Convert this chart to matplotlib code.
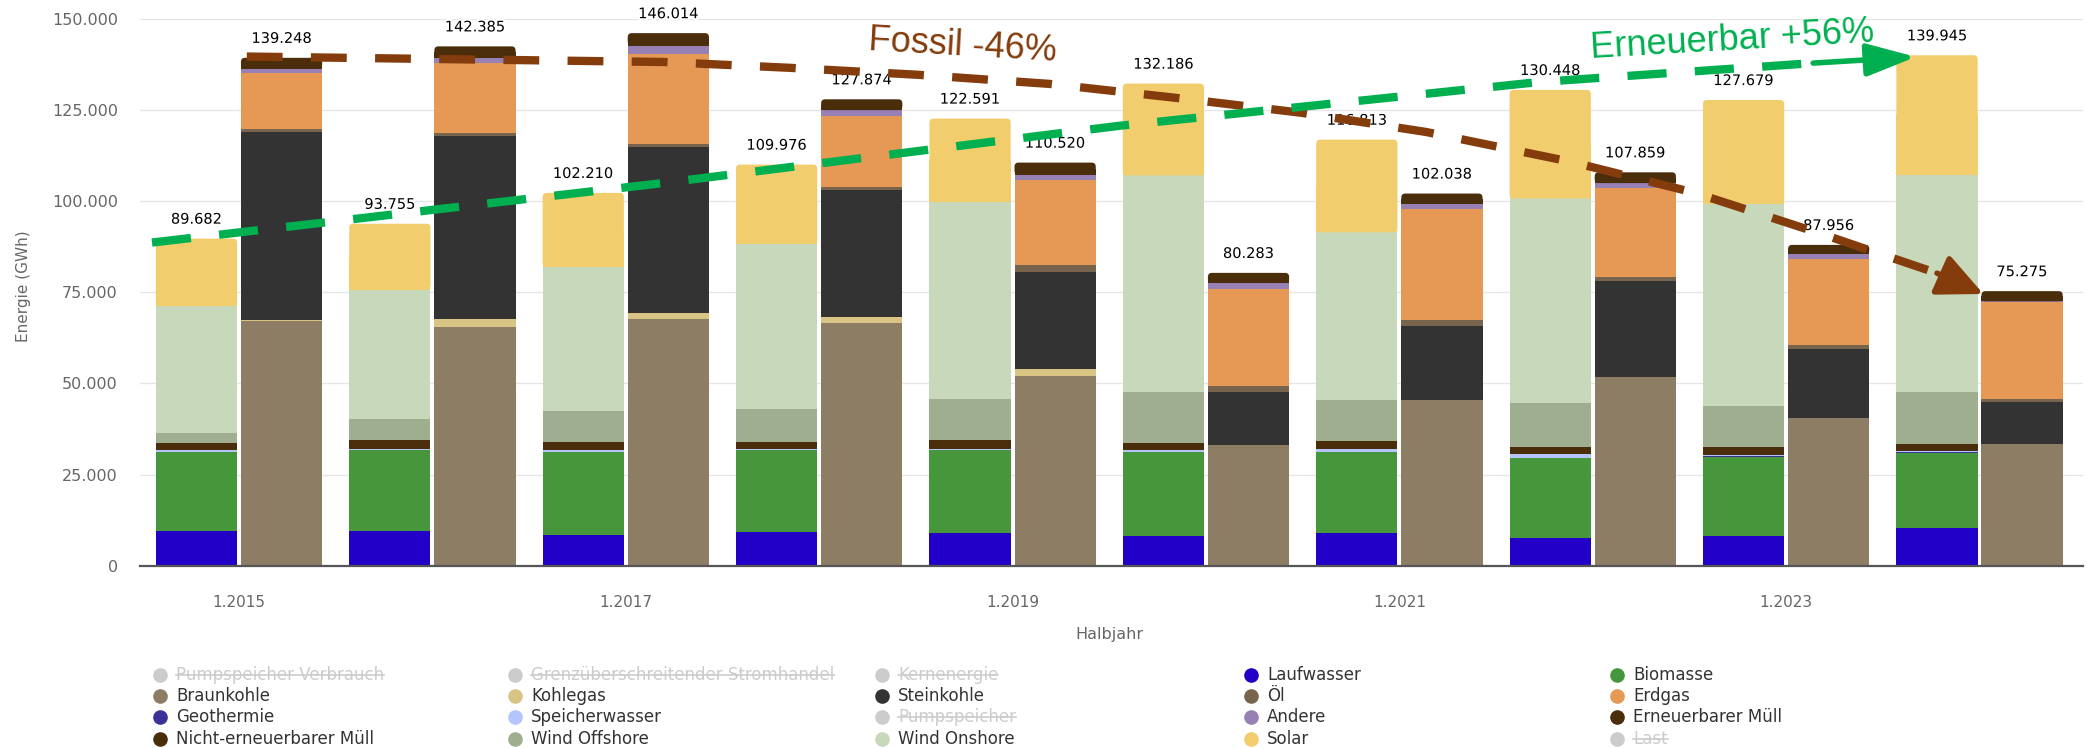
import matplotlib
matplotlib.use("Agg")
import matplotlib.pyplot as plt
import matplotlib.patheffects as pe
from matplotlib.lines import Line2D
from matplotlib.patches import FancyArrowPatch, FancyBboxPatch
import numpy as np

plt.rcParams["font.family"] = ["DejaVu Sans"]

# --- data (GWh), first half-year of each year ---
periods = ["1.2015", "1.2016", "1.2017", "1.2018", "1.2019",
           "1.2020", "1.2021", "1.2022", "1.2023", "1.2024"]

# renewable stack, bottom to top
laufwasser = [9400, 9400, 8400, 9200, 8900, 8100, 8900, 7600, 8100, 10200]
biomasse = [21800, 22200, 22800, 22400, 22700, 23100, 22300, 21900, 21700, 20700]
geothermie = [100, 100, 100, 100, 100, 100, 100, 100, 200, 200]
speicherwasser = [300, 300, 300, 300, 300, 300, 600, 1000, 300, 300]
erneuerbarer_muell = [2100, 2500, 2400, 2000, 2500, 2100, 2300, 1900, 2200, 2100]
wind_offshore = [2600, 5800, 8400, 8900, 11300, 13900, 11300, 12200, 11300, 14100]
wind_onshore = [34900, 35400, 39600, 45400, 54000, 59400, 45900, 56000, 55400, 59500]
solar = [18482, 18055, 20210, 21676, 22791, 25186, 25413, 29748, 28479, 32845]

# fossil stack, bottom to top
braunkohle = [67000, 65400, 67700, 66500, 52100, 33000, 45500, 51800, 40500, 33300]
kohlegas = [300, 2300, 1700, 1600, 1800, 0, 0, 0, 0, 0]
steinkohle = [51600, 50100, 45300, 34800, 26700, 14600, 20100, 26200, 19000, 11500]
oel = [900, 800, 900, 900, 1800, 1600, 1700, 1100, 1000, 1000]
erdgas = [15200, 19100, 24700, 19500, 23300, 26700, 30400, 24500, 23600, 26400]
andere = [1300, 1500, 2300, 1600, 1500, 1600, 1500, 1300, 1400, 300]
nicht_erneuerbarer_muell = [2948, 3185, 3414, 2974, 3320, 2783, 2838, 2959, 2456, 2775]

total_erneuerbar = [89682, 93755, 102210, 109976, 122591, 132186, 116813, 130448, 127679, 139945]
total_fossil = [139248, 142385, 146014, 127874, 110520, 80283, 102038, 107859, 87956, 75275]

# hand-drawn trend arrows (category index, GWh)
fossil_trend_x = [0.04, 2.20, 2.85, 3.51, 4.19, 4.84, 5.49, 6.14, 6.89, 7.53, 8.17, 8.78, 9.02]
fossil_trend_y = [139600, 138100, 136500, 134600, 132100, 128300, 124200, 118900, 110700,
                  102200, 91200, 80200, 74500]
renew_trend_x = [-0.45, 2.19, 4.55, 6.72, 8.14, 8.67]
renew_trend_y = [88600, 104900, 120600, 132600, 137800, 139500]

colors = {
    "Pumpspeicher Verbrauch": "#cccccc",
    "Grenzüberschreitender Stromhandel": "#cccccc",
    "Kernenergie": "#cccccc",
    "Laufwasser": "#2200c8",
    "Biomasse": "#46963c",
    "Braunkohle": "#8e7d65",
    "Kohlegas": "#d8c484",
    "Steinkohle": "#333333",
    "Öl": "#78644c",
    "Erdgas": "#e69955",
    "Geothermie": "#3a3296",
    "Speicherwasser": "#b4c4ff",
    "Pumpspeicher": "#cccccc",
    "Andere": "#9680b4",
    "Erneuerbarer Müll": "#4a2e0b",
    "Nicht-erneuerbarer Müll": "#4a2e0b",
    "Wind Offshore": "#9fae8f",
    "Wind Onshore": "#c8d8bb",
    "Solar": "#f2cd6e",
    "Last": "#cccccc",
}
legend_names = ["Pumpspeicher Verbrauch", "Grenzüberschreitender Stromhandel", "Kernenergie",
                "Laufwasser", "Biomasse",
                "Braunkohle", "Kohlegas", "Steinkohle", "Öl", "Erdgas",
                "Geothermie", "Speicherwasser", "Pumpspeicher", "Andere", "Erneuerbarer Müll",
                "Nicht-erneuerbarer Müll", "Wind Offshore", "Wind Onshore", "Solar", "Last"]
hidden = {"Pumpspeicher Verbrauch", "Grenzüberschreitender Stromhandel", "Kernenergie",
          "Pumpspeicher", "Last"}

renewable_stack = [("Laufwasser", laufwasser), ("Biomasse", biomasse),
                   ("Geothermie", geothermie), ("Speicherwasser", speicherwasser),
                   ("Erneuerbarer Müll", erneuerbarer_muell), ("Wind Offshore", wind_offshore),
                   ("Wind Onshore", wind_onshore), ("Solar", solar)]
fossil_stack = [("Braunkohle", braunkohle), ("Kohlegas", kohlegas), ("Steinkohle", steinkohle),
                ("Öl", oel), ("Erdgas", erdgas), ("Andere", andere),
                ("Nicht-erneuerbarer Müll", nicht_erneuerbarer_muell)]


def de_fmt(v):
    return f"{v:,.0f}".replace(",", ".")


W, H = 2087, 748
fig = plt.figure(figsize=(W / 100, H / 100), dpi=100)
ax = fig.add_axes([140 / W, (H - 565.7) / H, (2083 - 140) / W, (565.7 - 18.6) / H])
ax.set_xlim(-0.512, 9.535)
ax.set_ylim(0, 150000)

# pixel <-> data ratios, used for the rounded bar tops
px_x = (9.535 + 0.512) / (2083 - 140)
px_y = 150000 / (565.7 - 18.6)
radius = 4 * px_x

x = np.arange(len(periods))
bw = 0.42
for offset, stack in [(-0.22, renewable_stack), (0.22, fossil_stack)]:
    bottom = np.zeros(len(periods))
    for k, (name, vals) in enumerate(stack):
        vals = np.array(vals, dtype=float)
        if k < len(stack) - 1:
            ax.bar(x + offset, vals, bw, bottom=bottom, color=colors[name], linewidth=0, zorder=2)
        else:
            # top segment: rounded upper corners
            ax.bar(x + offset, vals * 0.5, bw, bottom=bottom, color=colors[name], linewidth=0,
                   zorder=2)
            for xi, b, v in zip(x + offset, bottom, vals):
                ax.add_patch(FancyBboxPatch((xi - bw / 2, b), bw, v,
                                            boxstyle=f"round,pad=0,rounding_size={radius}",
                                            mutation_aspect=px_y / px_x, facecolor=colors[name],
                                            linewidth=0, zorder=2))
        bottom += vals

halo = [pe.withStroke(linewidth=3, foreground="white")]
for offset, totals in [(-0.22, total_erneuerbar), (0.22, total_fossil)]:
    for xi, tot in zip(x + offset, totals):
        ax.annotate(de_fmt(tot), (xi, tot), xytext=(0, 14), textcoords="offset points",
                    ha="center", va="center", fontsize=10.5, color="black",
                    path_effects=halo, zorder=4, annotation_clip=False)

# trend arrows
brown = "#843c0c"
green = "#00b050"
ann_font = ["Liberation Sans Narrow", "Liberation Sans", "DejaVu Sans"]
ax.plot(fossil_trend_x[:-1], fossil_trend_y[:-1], color=brown, lw=6, dashes=(4.3, 3.4),
        dash_capstyle="butt", zorder=5, clip_on=False)
ax.add_patch(FancyArrowPatch((fossil_trend_x[-2], fossil_trend_y[-2]),
                             (fossil_trend_x[-1], fossil_trend_y[-1]),
                             arrowstyle="-|>,head_length=28,head_width=13", mutation_scale=1,
                             color=brown, lw=4, shrinkA=0, shrinkB=0, zorder=5, clip_on=False))
ax.plot(renew_trend_x[:-1], renew_trend_y[:-1], color=green, lw=6, dashes=(4.7, 3.4),
        dash_capstyle="butt", zorder=5, clip_on=False)
ax.add_patch(FancyArrowPatch((renew_trend_x[-2], renew_trend_y[-2]),
                             (renew_trend_x[-1], renew_trend_y[-1]),
                             arrowstyle="-|>,head_length=30,head_width=10", mutation_scale=1,
                             color=green, lw=4, shrinkA=0, shrinkB=0, zorder=5, clip_on=False))
ax.text(3.74, 142500, "Fossil -46%", color=brown, fontsize=26, rotation=-3.3,
        rotation_mode="anchor", ha="center", va="center",
        family=ann_font, zorder=6, clip_on=False)
ax.text(7.72, 144100, "Erneuerbar +56%", color=green, fontsize=26, rotation=3.3,
        rotation_mode="anchor", ha="center", va="center",
        family=ann_font, zorder=6, clip_on=False)

# axes styling
ax.set_yticks(np.arange(0, 150001, 25000))
ax.set_yticklabels([de_fmt(v) for v in np.arange(0, 150001, 25000)])
ax.set_xticks(x[::2])
ax.set_xticklabels(periods[::2])
ax.tick_params(axis="y", length=0, pad=16, labelsize=11.5, labelcolor="#666666")
ax.tick_params(axis="x", length=0, pad=21, labelsize=11, labelcolor="#666666")
ax.grid(axis="y", color="#e6e6e6", lw=1, zorder=0)
ax.set_axisbelow(True)
for side in ["left", "right", "top"]:
    ax.spines[side].set_visible(False)
ax.spines["bottom"].set_color("#555555")
ax.spines["bottom"].set_linewidth(1.6)
ax.spines["bottom"].set_zorder(3)

fig.text(24 / W, 1 - 286 / H, "Energie (GWh)", rotation=90, ha="center", va="center",
         fontsize=11, color="#666666")
fig.text(1109 / W, 1 - 635 / H, "Halbjahr", ha="center", va="center",
         fontsize=11.5, color="#666666")

# legend, 5 columns row by row
col_x = [160, 515, 882, 1251, 1617]
row_y = [675, 696, 717, 739]
legend_texts = []
for i, name in enumerate(legend_names):
    mx = col_x[i % 5] / W
    my = 1 - row_y[i // 5] / H
    fig.add_artist(Line2D([mx], [my], marker="o", markersize=9.5, color=colors[name],
                          linestyle="none", transform=fig.transFigure))
    t = fig.text(mx + 16 / W, my, name, ha="left", va="center", fontsize=12,
                 color="#cccccc" if name in hidden else "#333333")
    legend_texts.append((name, t))

fig.canvas.draw()
renderer = fig.canvas.get_renderer()
for name, t in legend_texts:
    if name in hidden:
        bb = t.get_window_extent(renderer).transformed(fig.transFigure.inverted())
        ym = bb.y0 + bb.height * 0.5
        fig.add_artist(Line2D([bb.x0, bb.x1], [ym, ym], color="#cccccc", lw=1.2,
                              transform=fig.transFigure))

fig.savefig("out.png", dpi=100)
